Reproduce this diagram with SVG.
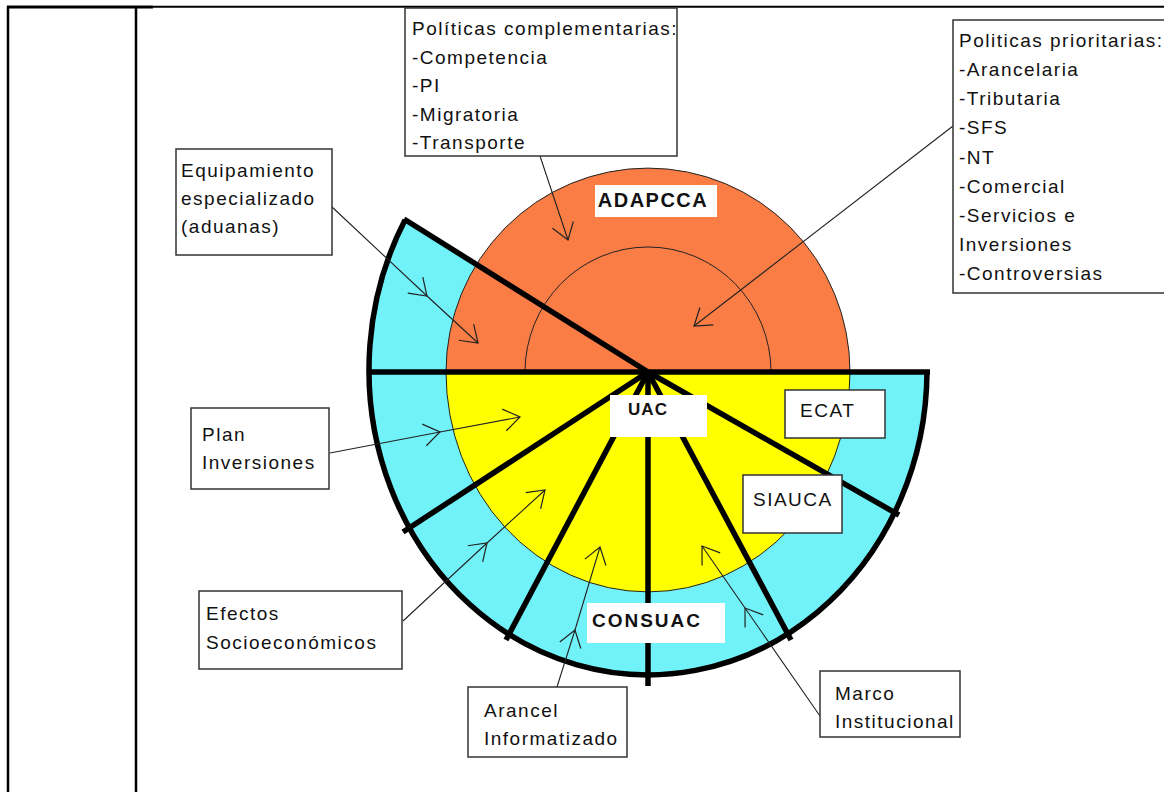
<svg xmlns="http://www.w3.org/2000/svg" width="1164" height="792" viewBox="0 0 1164 792">
<style>
.t{font-family:"Liberation Sans",Arial,sans-serif;font-size:19px;letter-spacing:1.5px;fill:#111}
.b{font-weight:bold;fill:#111;font-family:"Liberation Sans",Arial,sans-serif}
.box{fill:#fff;stroke:#333;stroke-width:1.5}
.lbl{fill:#fff;stroke:none}
.thick{stroke:#000;stroke-width:5.5;fill:none;stroke-linecap:butt}
.thin{stroke:#222;stroke-width:1;fill:none}
.con{stroke:#222;stroke-width:1.1;fill:none}
.tbl{stroke:#000;fill:none}
</style>
<defs>
<marker id="arr" viewBox="-20 -14 22 28" markerWidth="22" markerHeight="28" refX="0" refY="0" orient="auto" markerUnits="userSpaceOnUse">
<path d="M-16,-11 L0,0 L-16,11" fill="none" stroke="#222" stroke-width="1.2"/>
</marker>
</defs>
<rect width="1164" height="792" fill="#fff"/>
<g id="table">
<line class="tbl" x1="7" y1="7" x2="153" y2="7" stroke-width="3"/>
<line class="tbl" x1="153" y1="6.7" x2="1164" y2="6.7" stroke-width="2"/>
<line class="tbl" x1="8" y1="6" x2="8" y2="792" stroke-width="2.5"/>
<line class="tbl" x1="136" y1="6" x2="136" y2="792" stroke-width="2.5"/>
</g>
<g id="wheel">
<path d="M648,372 L405,220 A279,305 0 1,0 927,372 Z" fill="#70F2F8"/>
<path d="M446,372 A202,204 0 0,1 850,372 Z" fill="#FA7D45" stroke="#222" stroke-width="1"/>
<path d="M446,372 A202,220 0 0,0 850,372 Z" fill="#FFFF00" stroke="#222" stroke-width="1"/>
<path class="thin" d="M525,372 A123,125 0 0,1 771,372"/>
<path class="thick" d="M405,220 A279,305 0 1,0 927,372"/>
<line class="thick" x1="369" y1="372" x2="930" y2="372" stroke-linecap="square"/>
<line class="thick" x1="648" y1="372" x2="404" y2="219" stroke-width="6"/>
<line class="thick" x1="648" y1="372" x2="403" y2="532"/>
<line class="thick" x1="648" y1="372" x2="506" y2="640"/>
<line class="thick" x1="648" y1="372" x2="648" y2="686"/>
<line class="thick" x1="648" y1="372" x2="791" y2="640"/>
<line class="thick" x1="648" y1="372" x2="899" y2="515"/>
</g>
<g id="ADAPCCA">
<rect class="lbl" x="595" y="185" width="122" height="32"/>
<text class="b" x="653" y="207" font-size="20" letter-spacing="1.5" text-anchor="middle">ADAPCCA</text>
</g>
<g id="UAC">
<rect class="lbl" x="610" y="395" width="97" height="42"/>
<text class="b" x="648" y="415" font-size="17" letter-spacing="1" text-anchor="middle">UAC</text>
</g>
<g id="CONSUAC">
<rect class="lbl" x="587" y="603" width="138" height="40"/>
<text class="b" x="647" y="627" font-size="19" letter-spacing="2" text-anchor="middle">CONSUAC</text>
</g>
<g id="ECAT">
<rect class="box" x="785" y="390" width="100" height="48"/>
<text class="t" x="800" y="417">ECAT</text>
</g>
<g id="SIAUCA">
<rect class="box" x="743" y="475" width="99" height="58"/>
<text class="t" x="753" y="506">SIAUCA</text>
</g>
<g id="connectors">
<polyline class="con" points="540,156 568,240" marker-end="url(#arr)"/>
<polyline class="con" points="953,126 694,326" marker-end="url(#arr)"/>
<polyline class="con" points="332,207 427,296 478,343" marker-mid="url(#arr)" marker-end="url(#arr)"/>
<polyline class="con" points="330,453 440,432 520,417" marker-mid="url(#arr)" marker-end="url(#arr)"/>
<polyline class="con" points="403,621 487,543 545,490" marker-mid="url(#arr)" marker-end="url(#arr)"/>
<polyline class="con" points="556,690 575,630 600,547" marker-mid="url(#arr)" marker-end="url(#arr)"/>
<polyline class="con" points="820,716 745,608 702,546" marker-mid="url(#arr)" marker-end="url(#arr)"/>
</g>
<g id="complementarias">
<rect class="box" x="405" y="8" width="272" height="148"/>
<text class="t" x="412" y="35">Políticas complementarias:</text>
<text class="t" x="412" y="63.6">-Competencia</text>
<text class="t" x="412" y="92.2">-PI</text>
<text class="t" x="412" y="120.8">-Migratoria</text>
<text class="t" x="412" y="149.4">-Transporte</text>
</g>
<g id="prioritarias">
<rect class="box" x="953" y="20" width="220" height="273"/>
<text class="t" x="959" y="47">Politicas prioritarias:</text>
<text class="t" x="959" y="76">-Arancelaria</text>
<text class="t" x="959" y="105">-Tributaria</text>
<text class="t" x="959" y="134">-SFS</text>
<text class="t" x="959" y="163.5">-NT</text>
<text class="t" x="959" y="192.5">-Comercial</text>
<text class="t" x="959" y="221.5">-Servicios e</text>
<text class="t" x="959" y="250.5">Inversiones</text>
<text class="t" x="959" y="280">-Controversias</text>
</g>
<g id="equipamiento">
<rect class="box" x="176" y="149" width="156" height="106"/>
<text class="t" x="181" y="177">Equipamiento</text>
<text class="t" x="181" y="205">especializado</text>
<text class="t" x="181" y="233.3">(aduanas)</text>
</g>
<g id="plan">
<rect class="box" x="191" y="408" width="138" height="81"/>
<text class="t" x="202" y="441">Plan</text>
<text class="t" x="202" y="469.3">Inversiones</text>
</g>
<g id="efectos">
<rect class="box" x="199" y="591" width="203" height="78"/>
<text class="t" x="206" y="620">Efectos</text>
<text class="t" x="206" y="649.3">Socioeconómicos</text>
</g>
<g id="arancel">
<rect class="box" x="468" y="687" width="159" height="70"/>
<text class="t" x="484" y="716.7">Arancel</text>
<text class="t" x="484" y="745">Informatizado</text>
</g>
<g id="marco">
<rect class="box" x="820" y="671" width="140" height="66"/>
<text class="t" x="835" y="700">Marco</text>
<text class="t" x="835" y="728.3">Institucional</text>
</g>
</svg>
